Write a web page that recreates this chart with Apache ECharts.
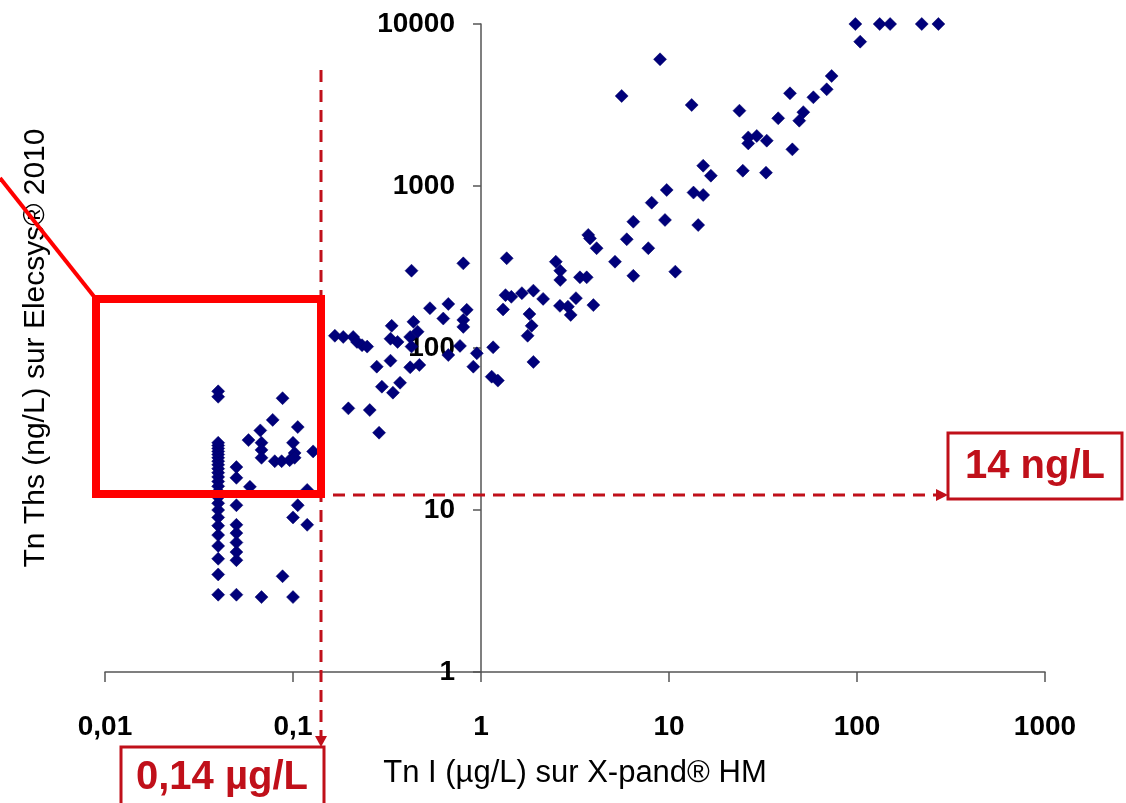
<!DOCTYPE html>
<html><head><meta charset="utf-8">
<script src="https://cdn.jsdelivr.net/npm/echarts@6/dist/echarts.min.js"></script>
<style>html,body{margin:0;padding:0;background:#fff}#c{width:1126px;height:803px}</style>
</head><body><div id="c"></div>
<script>
// Tick labels
const xTickLabels = ['0,01', '0,1', '1', '10', '100', '1000'];
const yTickLabels = ['1', '10', '100', '1000', '10000'];

// Low column at Tn I = 0.04 µg/L
const col004Y = [3, 4, 5, 6, 7, 8, 9, 10, 11, 12, 13, 14, 15, 16, 17, 18, 19, 20, 21, 22, 23, 24, 25, 26, 50, 54];
// Low column at Tn I = 0.05 µg/L
const col005Y = [3, 4.9, 5.5, 6.3, 7.2, 8.1, 10.7, 15.8, 18.4];

// Low cluster (0.05 - 0.14)
const lowX = [0.058, 0.067, 0.078, 0.068, 0.068, 0.068, 0.080, 0.087, 0.096, 0.100, 0.102, 0.102, 0.106, 0.128, 0.119, 0.106, 0.100, 0.119, 0.088, 0.100, 0.068, 0.088, 0.059];
const lowY = [27, 31, 36, 26, 23.5, 21, 20, 20, 20.3, 26, 22.5, 21, 32.5, 23, 13.3, 10.7, 9, 8.1, 3.9, 2.9, 2.9, 49, 13.9];

// Middle cluster (0.15 - 1.5)
const midX = [0.427, 0.805, 1.37, 1.35, 1.45, 1.31, 0.535, 0.67, 0.84, 0.63, 0.805, 0.805, 0.437, 0.335, 0.46, 0.42, 0.33, 0.36, 0.427, 0.773, 0.67, 0.95, 0.91, 1.16, 1.14, 1.23,
  0.167, 0.185, 0.209, 0.219, 0.233, 0.248, 0.33, 0.279, 0.42, 0.47, 0.371, 0.297, 0.34, 0.197, 0.256, 0.287];
const midY = [300, 333, 358, 212, 207, 173, 176, 187, 172, 152, 149, 135, 145, 137, 126, 117, 114, 109, 102, 103, 90.5, 92.7, 76.7, 101, 66.5, 62.9,
  119, 117, 117, 109, 104, 102, 83.5, 76.7, 76, 78.6, 61, 57.7, 53, 42.4, 41.4, 30];

// Upper cluster (1.5 - 16)
const upX = [9.72, 13.5, 15.2, 8.09, 6.46, 9.52, 14.3, 3.72, 3.8, 5.96, 4.12, 7.76, 5.16, 6.46, 10.8, 2.5, 2.64, 2.64, 3.36, 3.65, 1.65, 1.9, 2.14, 1.81, 1.86, 1.77, 2.63, 2.9, 3.0, 3.2, 3.96, 1.9];
const upY = [945, 911, 880, 789, 602, 617, 574, 499, 475, 469, 413, 413, 341, 279, 296, 341, 300, 263, 273, 273, 218, 226, 201, 162, 137, 119, 182, 180, 160, 203, 184, 82];

// Top cluster
const topX = [98, 132, 150, 221, 271, 104, 8.96, 5.6, 13.2, 23.7, 73.3, 69, 44, 58.6, 51.8, 49.3, 38.1, 26.4, 29.3, 33.1, 26.4, 45.3, 24.7, 32.8, 15.2, 16.7];
const topY = [10000, 10000, 10000, 10000, 10000, 7780, 6053, 3594, 3162, 2917, 4775, 3953, 3733, 3528, 2857, 2531, 2618, 1995, 2036, 1905, 1832, 1683, 1243, 1209, 1334, 1158];

const data = [];
col004Y.forEach(y => data.push([0.04, y]));
col005Y.forEach(y => data.push([0.05, y]));
[[lowX, lowY], [midX, midY], [upX, upY], [topX, topY]].forEach(([xs, ys]) => xs.forEach((x, i) => data.push([x, ys[i]])));

const FONT = 'Liberation Sans, Arial, Helvetica, sans-serif';
const AX = '#555555';
const DR = '#C0101A';
const chart = echarts.init(document.getElementById('c'), null, { renderer: 'canvas' });

chart.setOption({
  backgroundColor: '#ffffff',
  animation: false,
  grid: { left: 105, right: 81, top: 24, bottom: 131, containLabel: false },
  xAxis: {
    type: 'log', logBase: 10, min: 0.01, max: 1000,
    axisLine: { onZero: false, lineStyle: { color: AX, width: 1.5 } },
    axisTick: { show: true, length: 10, lineStyle: { color: AX, width: 1.5 } },
    splitLine: { show: false },
    minorTick: { show: false },
    axisLabel: {
      margin: 41, color: '#000', fontFamily: FONT, fontWeight: 'bold', fontSize: 28,
      formatter: v => xTickLabels[Math.round(Math.log10(v)) + 2]
    }
  },
  yAxis: {
    type: 'log', logBase: 10, min: 1, max: 10000,
    position: 'left', offset: -376,
    axisLine: { onZero: false, lineStyle: { color: AX, width: 1.5 } },
    axisTick: { show: true, length: 8, lineStyle: { color: AX, width: 1.5 } },
    splitLine: { show: false },
    axisLabel: {
      margin: 26, color: '#000', fontFamily: FONT, fontWeight: 'bold', fontSize: 28,
      formatter: v => yTickLabels[Math.round(Math.log10(v))]
    }
  },
  series: [{
    type: 'scatter',
    symbol: 'diamond',
    symbolSize: 13,
    itemStyle: { color: '#00007a', borderColor: '#000066', borderWidth: 0.5, opacity: 1 },
    data: data,
    z: 3
  }],
  graphic: [
    { type: 'text', x: 36, y: 348, rotation: Math.PI / 2, z: 10,
      style: { text: 'Tn Ths (ng/L) sur Elecsys® 2010', font: '30px ' + FONT, fill: '#000', align: 'center', verticalAlign: 'middle' } },
    { type: 'text', x: 575, y: 773, z: 10,
      style: { text: 'Tn I (µg/L) sur X-pand® HM', font: '31px ' + FONT, fill: '#000', align: 'center', verticalAlign: 'middle' } },
    // dashed cut-off lines
    { type: 'line', z: 20, shape: { x1: 321, y1: 70, x2: 321, y2: 738 }, style: { stroke: DR, lineWidth: 3, lineDash: [12, 8] } },
    { type: 'polygon', z: 20, shape: { points: [[315, 736], [327, 736], [321, 747]] }, style: { fill: DR } },
    { type: 'line', z: 20, shape: { x1: 333, y1: 495, x2: 937, y2: 495 }, style: { stroke: DR, lineWidth: 3, lineDash: [12, 8] } },
    { type: 'polygon', z: 20, shape: { points: [[936, 489], [936, 501], [948, 495]] }, style: { fill: DR } },
    // label boxes
    { type: 'rect', z: 21, shape: { x: 948, y: 433, width: 174, height: 66 }, style: { fill: '#fff', stroke: DR, lineWidth: 3 } },
    { type: 'text', z: 22, x: 1035, y: 467, style: { text: '14 ng/L', font: 'bold 40px ' + FONT, fill: DR, align: 'center', verticalAlign: 'middle' } },
    { type: 'rect', z: 21, shape: { x: 121, y: 747, width: 203, height: 80 }, style: { fill: '#fff', stroke: DR, lineWidth: 3 } },
    { type: 'text', z: 22, x: 222, y: 778, style: { text: '0,14 µg/L', font: 'bold 40px ' + FONT, fill: DR, align: 'center', verticalAlign: 'middle' } },
    // bright red zoom box and pointer line
    { type: 'line', z: 25, shape: { x1: 0, y1: 178, x2: 96, y2: 299 }, style: { stroke: '#ff0000', lineWidth: 4 } },
    { type: 'rect', z: 25, shape: { x: 96, y: 299, width: 225, height: 195 }, style: { fill: null, stroke: '#ff0000', lineWidth: 8 } }
  ]
});
</script></body></html>
